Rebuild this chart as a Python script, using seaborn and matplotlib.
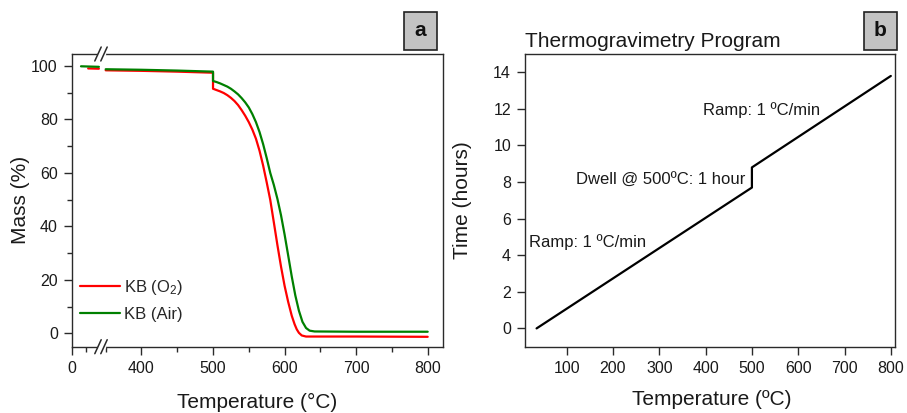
import numpy as np
import pandas as pd
import matplotlib
matplotlib.use("Agg")
import matplotlib.pyplot as plt
import seaborn as sns
from matplotlib.lines import Line2D
from matplotlib.patches import Rectangle
from matplotlib.ticker import FixedLocator, NullLocator

# ---------------- data ----------------
series_names = ["KB (O$_2$)", "KB (Air)"]

o2_temp_low = [23, 38]
o2_mass_low = [99.1, 99.0]
o2_temp = [350, 400, 450, 500, 500, 505, 510, 515, 520, 525, 530, 535, 540, 545, 550,
           555, 560, 565, 570, 575, 580, 585, 590, 595, 600, 605, 610, 614, 617,
           620, 624, 630, 700, 800]
o2_mass = [98.4, 98.2, 97.9, 97.5, 91.5, 91.0, 90.5, 89.9, 89.1, 88.1, 86.9, 85.4, 83.5, 81.4, 79.0,
           76.2, 72.8, 68.3, 62.8, 56.5, 49.9, 41.5, 33.0, 25.0, 17.8, 11.8, 6.6, 3.4, 1.5,
           0.2, -0.8, -1.2, -1.2, -1.3]

air_temp_low = [13, 38]
air_mass_low = [99.9, 99.7]
air_temp = [350, 400, 450, 500, 500, 505, 510, 515, 520, 525, 530, 535, 540, 545, 550,
            555, 560, 565, 570, 575, 580, 585, 590, 595, 600, 605, 610, 615, 620,
            625, 630, 635, 642, 700, 800]
air_mass = [98.8, 98.6, 98.3, 97.9, 94.4, 94.0, 93.5, 92.9, 92.3, 91.5, 90.5, 89.4, 88.0, 86.4, 84.5,
            82.0, 79.0, 75.3, 70.8, 65.6, 60.0, 55.5, 50.3, 44.2, 37.0, 29.2, 21.3, 14.2, 8.5,
            4.3, 2.0, 1.0, 0.7, 0.6, 0.6]

left_xticks = [0, 400, 500, 600, 700, 800]
left_xminor = [20, 350, 450, 550, 650, 750]
left_yticks = [0, 20, 40, 60, 80, 100]
left_yminor = [10, 30, 50, 70, 90]

prog_temp = [35, 500, 500, 800]
prog_time = [0, 7.7, 8.8, 13.8]
right_xticks = [100, 200, 300, 400, 500, 600, 700, 800]
right_yticks = [0, 2, 4, 6, 8, 10, 12, 14]

# ---------------- style ----------------
sns.set_theme(style="ticks")
plt.rcParams["font.family"] = ["Liberation Sans", "DejaVu Sans"]
plt.rcParams["mathtext.fontset"] = "custom"
plt.rcParams["mathtext.rm"] = "Liberation Sans"
plt.rcParams["mathtext.it"] = "Liberation Sans"
plt.rcParams["mathtext.default"] = "regular"

W, H = 907, 413
fig = plt.figure(figsize=(W / 100, H / 100), dpi=100)
fig.patch.set_facecolor("white")

ax1 = fig.add_axes([71.7 / W, 1 - 346.7 / H, (442.5 - 71.7) / W, (346.7 - 54) / H])
ax2 = fig.add_axes([525 / W, 1 - 346.7 / H, (895 - 525) / W, (346.7 - 54) / H])

SPINE = "#2a2a2a"
TXT = "#1a1a1a"

# ---------------- left panel ----------------
rows = []
for t, m in zip(o2_temp_low, o2_mass_low):
    rows.append((t, m, series_names[0], "o2_a"))
for t, m in zip(o2_temp, o2_mass):
    rows.append((t, m, series_names[0], "o2_b"))
for t, m in zip(air_temp_low, air_mass_low):
    rows.append((t, m, series_names[1], "air_a"))
for t, m in zip(air_temp, air_mass):
    rows.append((t, m, series_names[1], "air_b"))
df_tga = pd.DataFrame(rows, columns=["T", "mass", "series", "seg"])

bx = np.array([-10000.0, 40.0, 350.0, 10000.0])
by = np.array([-10000.0, 40.0, 47.5, 10000.0 - 302.5])


def fwd(x):
    return np.interp(x, bx, by)


def inv(y):
    return np.interp(y, by, bx)


ax1.set_xscale("function", functions=(fwd, inv))

sns.lineplot(data=df_tga, x="T", y="mass", hue="series", units="seg",
             estimator=None, sort=False,
             palette={series_names[0]: "#ff0000", series_names[1]: "#008000"},
             hue_order=series_names, linewidth=1.6, ax=ax1)

ax1.set_xlim(0, 820.7)
ax1.set_ylim(-5, 104.5)
ax1.xaxis.set_major_locator(FixedLocator(left_xticks))
ax1.xaxis.set_minor_locator(FixedLocator(left_xminor))
ax1.set_xticklabels([str(v) for v in left_xticks])
ax1.yaxis.set_major_locator(FixedLocator(left_yticks))
ax1.yaxis.set_minor_locator(FixedLocator(left_yminor))
ax1.set_xlabel("Temperature (°C)", fontsize=15, color=TXT)
ax1.set_ylabel("Mass (%)", fontsize=15, color=TXT)
ax1.xaxis.set_label_coords(0.499, -0.19)
ax1.xaxis.label.set_va("center")
ax1.yaxis.set_label_coords(-0.139, 0.5)
ax1.yaxis.label.set_va("center")

handles, labels = ax1.get_legend_handles_labels()
ax1.legend(handles, labels, loc="upper left", bbox_to_anchor=(0.0224, 0.236),
           frameon=False, borderpad=0, borderaxespad=0, handlelength=2.4,
           handletextpad=0.25, labelspacing=0.6, fontsize=12)

# ---------------- right panel ----------------
df_prog = pd.DataFrame({"T": prog_temp, "t": prog_time})
sns.lineplot(data=df_prog, x="T", y="t", sort=False, estimator=None,
             color="black", linewidth=1.6, ax=ax2)
ax2.set_xlim(10, 809)
ax2.set_ylim(-1, 15)
ax2.xaxis.set_major_locator(FixedLocator(right_xticks))
ax2.yaxis.set_major_locator(FixedLocator(right_yticks))
ax2.xaxis.set_minor_locator(NullLocator())
ax2.yaxis.set_minor_locator(NullLocator())
ax2.set_xlabel("Temperature (ºC)", fontsize=15, color=TXT)
ax2.set_ylabel("Time (hours)", fontsize=15, color=TXT)
ax2.xaxis.set_label_coords(0.505, -0.18)
ax2.xaxis.label.set_va("center")
ax2.yaxis.set_label_coords(-0.168, 0.5)
ax2.yaxis.label.set_va("center")

ax2.text(18.6, 4.45, "Ramp: 1 ºC/min", fontsize=12, color=TXT, va="baseline", ha="left")
ax2.text(121, 7.87, "Dwell @ 500ºC: 1 hour", fontsize=12, color=TXT, va="baseline", ha="left")
ax2.text(393.6, 11.69, "Ramp: 1 ºC/min", fontsize=12, color=TXT, va="baseline", ha="left")

fig.text(525 / W, 1 - 46.7 / H, "Thermogravimetry Program", fontsize=15,
         color=TXT, ha="left", va="baseline")

# ---------------- common axis styling ----------------
for ax in (ax1, ax2):
    for s in ax.spines.values():
        s.set_visible(True)
        s.set_color(SPINE)
        s.set_linewidth(1.0)
    ax.tick_params(which="major", direction="out", length=6, width=1.0,
                   color=SPINE, labelsize=11.5, labelcolor=TXT, pad=4)
    ax.tick_params(which="minor", direction="out", length=3.5, width=1.0, color=SPINE)
    ax.grid(False)
    ax.set_facecolor("white")

# ---------------- axis-break marks ----------------
def px(x, y):
    return x / W, 1 - y / H

for ysp in (54.0, 346.7):
    gx0, gy0 = px(98.5, ysp)
    gx1, gy1 = px(103.5, ysp)
    fig.add_artist(Line2D([gx0, gx1], [gy0, gy1], color="white", lw=2.5,
                          transform=fig.transFigure))
    for cx in (98.0, 104.0):
        x0, y0 = px(cx - 3.2, ysp + 7)
        x1, y1 = px(cx + 3.2, ysp - 7)
        fig.add_artist(Line2D([x0, x1], [y0, y1], color=SPINE, lw=1.1,
                              transform=fig.transFigure))

# ---------------- panel labels ----------------
for (bx0, label) in ((404, "a"), (864, "b")):
    x0, y0 = px(bx0, 50)
    fig.add_artist(Rectangle((x0, y0), 33 / W, 38 / H, transform=fig.transFigure,
                             facecolor="#c3c3c3", edgecolor="#222222", lw=1.2))
    cx, cy = px(bx0 + 16.5, 31)
    fig.text(cx, cy, label, fontsize=15, fontweight="bold", color="#111111",
             ha="center", va="center")

fig.savefig("out.png", dpi=100, facecolor="white")
